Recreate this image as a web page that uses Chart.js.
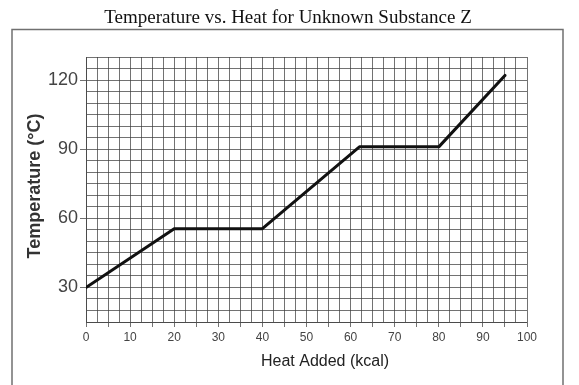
<!DOCTYPE html>
<html>
<head>
<meta charset="utf-8">
<script src="https://cdn.jsdelivr.net/npm/chart.js@4/dist/chart.umd.min.js"></script>
<style>
  html, body { margin: 0; padding: 0; background: #ffffff; }
  #wrap { width: 579px; height: 385px; position: relative; }
</style>
</head>
<body>
<div id="wrap"><canvas id="c" width="579" height="385"></canvas></div>
<script>
const chartTitle = "Temperature vs. Heat for Unknown Substance Z";
const xAxisTitle = "Heat Added (kcal)";
const yAxisTitle = "Temperature (\u00B0C)";
const heatAdded = [0, 20, 40, 62, 80, 95];
const temperature = [30, 55.5, 55.5, 91, 91, 122];
const xTickLabels = [0, 10, 20, 30, 40, 50, 60, 70, 80, 90, 100];
const yTickLabels = [30, 60, 90, 120];

const points = heatAdded.map((x, i) => ({ x: x, y: temperature[i] }));
const gridColor = 'rgba(60,60,60,0.72)';

const decor = {
  id: 'decor',
  afterDraw(chart) {
    const ctx = chart.ctx;
    ctx.save();
    // outer frame
    ctx.strokeStyle = '#707070';
    ctx.lineWidth = 1.5;
    ctx.beginPath();
    ctx.moveTo(12, 400);
    ctx.lineTo(12, 29.5);
    ctx.lineTo(563, 29.5);
    ctx.lineTo(563, 400);
    ctx.stroke();
    // title
    ctx.fillStyle = '#111';
    ctx.font = '19px "Liberation Serif", "Times New Roman", serif';
    ctx.textAlign = 'center';
    ctx.textBaseline = 'alphabetic';
    ctx.fillText(chartTitle, 288, 23);
    // x axis title
    ctx.fillStyle = '#222';
    ctx.font = '16px "Liberation Sans", Arial, sans-serif';
    ctx.textBaseline = 'middle';
    ctx.fillText(xAxisTitle, 325, 362);
    // y axis title
    ctx.translate(35, 186);
    ctx.rotate(-Math.PI / 2);
    ctx.font = 'bold 18px "Liberation Sans", Arial, sans-serif';
    ctx.fillStyle = '#333';
    ctx.fillText(yAxisTitle, 0, 0);
    ctx.restore();
  }
};

new Chart(document.getElementById('c'), {
  type: 'scatter',
  data: {
    datasets: [{
      data: points,
      showLine: true,
      borderColor: '#111',
      borderWidth: 3,
      pointRadius: 0,
      pointHoverRadius: 0,
      tension: 0,
      borderCapStyle: 'round',
      borderJoinStyle: 'round'
    }]
  },
  options: {
    responsive: false,
    animation: false,
    events: [],
    layout: { padding: { left: 0, right: 52, top: 57, bottom: 0 } },
    plugins: { legend: { display: false }, tooltip: { enabled: false }, title: { display: false } },
    scales: {
      x: {
        type: 'linear',
        min: 0, max: 100,
        afterFit(scale) { scale.height = 63; },
        afterBuildTicks(scale) {
          const t = [];
          for (let v = 0; v <= 100; v += 2.5) t.push({ value: v });
          scale.ticks = t;
        },
        ticks: {
          autoSkip: false,
          maxRotation: 0,
          padding: 3,
          color: '#444',
          font: { family: '"Liberation Sans", Arial, sans-serif', size: 12 },
          callback(v) { return xTickLabels.includes(v) ? String(v) : ''; }
        },
        grid: {
          color: gridColor,
          lineWidth: 1,
          tickLength: 5,
          tickColor(ctx) { return (ctx.tick && ctx.tick.value % 5 === 0) ? gridColor : 'rgba(0,0,0,0)'; }
        },
        border: { color: gridColor, width: 1 }
      },
      y: {
        type: 'linear',
        min: 15, max: 130,
        afterFit(scale) { scale.width = 86; },
        afterBuildTicks(scale) {
          const t = [];
          for (let v = 15; v <= 130; v += 5) t.push({ value: v });
          scale.ticks = t;
        },
        ticks: {
          autoSkip: false,
          padding: 2,
          color: '#444',
          font: { family: '"Liberation Sans", Arial, sans-serif', size: 18 },
          callback(v) { return yTickLabels.includes(v) ? String(v) : ''; }
        },
        grid: {
          color: gridColor,
          lineWidth: 1,
          tickLength: 6,
          tickColor(ctx) { return (ctx.tick && yTickLabels.includes(ctx.tick.value)) ? gridColor : 'rgba(0,0,0,0)'; }
        },
        border: { color: gridColor, width: 1 }
      }
    }
  },
  plugins: [decor]
});
</script>
</body>
</html>
